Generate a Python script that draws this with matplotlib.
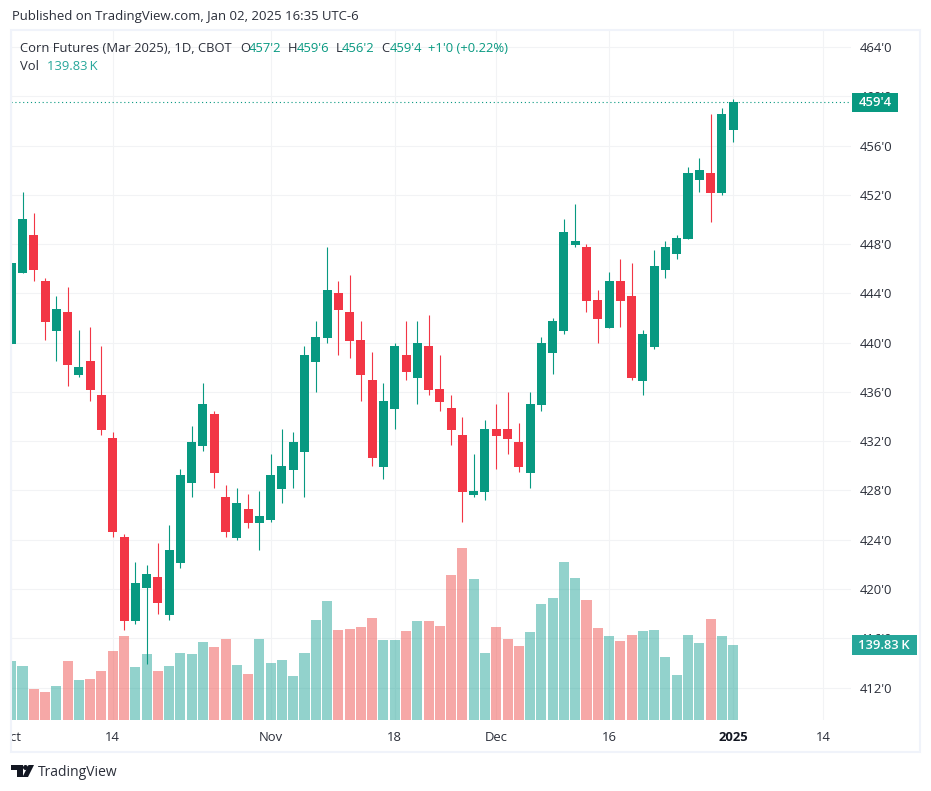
import matplotlib
matplotlib.use("Agg")
import matplotlib.pyplot as plt
from matplotlib.patches import Rectangle, Polygon, Circle
from matplotlib.ticker import FixedLocator, FuncFormatter
from matplotlib.transforms import Bbox, blended_transform_factory

plt.rcParams['font.family'] = ['Open Sans', 'DejaVu Sans']

# daily bars, Oct 1 2024 .. Jan 2 2025
opens = [439.92, 445.68, 448.74, 445.01, 440.97, 442.49, 437.40, 438.51, 435.75, 432.26,
         424.23, 417.43, 420.11, 420.98, 417.92, 422.14, 428.63, 431.64, 434.21, 427.47,
         424.17, 426.50, 425.36, 425.61, 428.12, 429.67, 431.13, 438.43, 440.38, 444.03,
         442.49, 440.22, 436.97, 429.91, 434.62, 439.00, 437.13, 439.73, 436.24, 434.70,
         432.51, 427.64, 427.88, 432.99, 432.99, 431.94, 429.42, 434.94, 439.16, 440.95,
         447.93, 447.77, 443.46, 441.19, 445.01, 443.79, 436.89, 439.65, 445.90, 447.20,
         448.42, 453.20, 453.77, 452.15, 457.25]
highs = [446.47, 452.23, 450.53, 445.25, 443.79, 444.52, 441.03, 441.27, 439.73, 432.75,
         424.47, 422.20, 421.95, 423.74, 425.20, 429.75, 433.24, 436.73, 434.45, 428.45,
         428.20, 427.72, 427.96, 430.96, 432.99, 432.75, 439.73, 441.76, 447.77, 445.01,
         445.49, 441.76, 439.24, 436.73, 439.97, 441.76, 441.76, 442.25, 439.00, 435.75,
         433.97, 430.96, 433.72, 435.02, 436.00, 433.48, 436.00, 440.46, 442.00, 450.04,
         451.26, 448.01, 444.28, 445.74, 446.79, 446.47, 441.03, 447.52, 448.25, 448.74,
         454.26, 454.99, 458.56, 459.05, 459.75]
lows = [439.92, 445.68, 445.03, 440.22, 438.51, 436.51, 437.24, 435.29, 432.53, 424.25,
        416.70, 417.19, 413.94, 418.00, 417.51, 421.74, 427.50, 431.23, 428.23, 424.25,
        424.01, 424.96, 423.17, 425.44, 426.99, 428.20, 427.47, 436.00, 439.97, 439.00,
        438.76, 435.27, 429.99, 428.94, 432.99, 436.97, 435.02, 435.75, 434.45, 431.69,
        425.44, 427.47, 427.23, 429.75, 430.96, 429.50, 428.20, 434.45, 437.46, 440.70,
        447.77, 442.49, 439.97, 441.19, 441.27, 436.97, 435.75, 439.49, 445.25, 446.79,
        448.42, 452.23, 449.80, 451.99, 456.25]
closes = [446.47, 450.04, 445.92, 441.70, 442.73, 438.21, 438.03, 436.18, 432.94, 424.66,
          417.43, 420.49, 421.22, 418.89, 423.17, 429.26, 431.94, 435.02, 429.45, 424.66,
          426.99, 425.36, 425.93, 429.26, 429.99, 431.94, 439.00, 440.46, 444.28, 442.65,
          440.14, 437.38, 430.64, 435.27, 439.73, 437.62, 439.97, 436.16, 435.19, 432.91,
          427.88, 427.96, 432.99, 432.43, 432.18, 429.91, 435.02, 439.97, 441.76, 448.98,
          448.25, 443.38, 441.92, 445.01, 443.38, 437.13, 440.70, 446.22, 447.77, 448.50,
          453.77, 454.02, 452.15, 458.56, 459.50]
# volume in thousands
volumes = [110, 101, 58, 52, 63, 110, 75, 76, 91, 129,
           157, 99, 123, 91, 101, 125, 123, 145, 136, 151,
           103, 86, 151, 106, 112, 82, 125, 186, 222, 168,
           170, 173, 190, 149, 149, 166, 185, 185, 175, 270,
           321, 263, 125, 173, 151, 138, 164, 216, 227, 295,
           265, 224, 171, 157, 147, 158, 166, 168, 117, 84,
           158, 144, 188, 157, 139.83]

date_ticks = [0, 9, 23, 34, 43, 53, 64, 72]
date_labels = ['Oct', '14', 'Nov', '18', 'Dec', '16', '2025', '14']
price_ticks = [412, 416, 420, 424, 428, 432, 436, 440, 444, 448, 452, 456, 460, 464]

GREEN = '#089981'
RED = '#f23645'
VOL_GREEN = '#26a69a'
VOL_RED = '#ef5350'
GRID = '#f2f3f5'
FRAME = '#f0f3fa'
TEXT = '#2a2e39'

idx = list(range(len(closes)))
up = [c >= o for o, c in zip(opens, closes)]
candle_colors = [GREEN if u else RED for u in up]
vol_colors = [VOL_GREEN if u else VOL_RED for u in up]

W, H = 931, 791
fig = plt.figure(figsize=(W / 100, H / 100), dpi=100, facecolor='white')
rect = [11 / W, (H - 720) / H, 840 / W, 689 / H]

# grid at the back, volume over it, candles and labels on top
ax = fig.add_axes(rect, zorder=3)
ax.patch.set_visible(False)
ax.set_xlim(-0.02, 74.45)
ax.set_ylim(409.37, 465.3)

ax_grid = fig.add_axes(rect, zorder=1, sharex=ax, sharey=ax)
ax_vol = fig.add_axes(rect, zorder=2)
ax_vol.patch.set_visible(False)
ax_vol.set_xlim(-0.02, 74.45)
ax_vol.set_ylim(0, 1284.7)
ax_vol.set_xticks([])
ax_vol.set_yticks([])

ax.xaxis.set_major_locator(FixedLocator(date_ticks))
ax.set_xticklabels(date_labels)
ax.yaxis.set_major_locator(FixedLocator(price_ticks))
ax.yaxis.tick_right()
ax.yaxis.set_major_formatter(FuncFormatter(lambda p, _: f"{int(p)}'{int((p % 1) * 8)}"))
ax.tick_params(axis='x', length=0, pad=8.2, labelsize=9.4, labelcolor=TEXT)
ax.tick_params(axis='y', length=0, pad=6.5, labelsize=9.4, labelcolor=TEXT)
for spine_ax in (ax, ax_grid, ax_vol):
    for s in spine_ax.spines.values():
        s.set_visible(False)

ax_grid.grid(True, color=GRID, linewidth=0.8)
ax_grid.tick_params(length=0, labelbottom=False, labelleft=False, labelright=False)

labels = ax.get_xticklabels()
labels[0].set_clip_on(True)
labels[0].set_clip_box(Bbox([[11, 0], [200, H]]))
labels[6].set_fontweight('bold')
labels[6].set_color('#131722')

ax_vol.bar(idx, volumes, width=0.89, color=vol_colors, alpha=0.5, linewidth=0)

ax.vlines(idx, lows, highs, colors=candle_colors, linewidth=0.8, zorder=3)
ax.bar(idx, [abs(c - o) for o, c in zip(opens, closes)],
       bottom=[min(o, c) for o, c in zip(opens, closes)],
       width=0.8, color=candle_colors, linewidth=0, zorder=4)
ax.axhline(closes[-1], color=GREEN, linewidth=0.8, linestyle=(0, (1, 2.5)), zorder=2)

# last value tags on the price scale
price_tr = blended_transform_factory(ax.transAxes, ax.transData)
vol_tr = blended_transform_factory(ax.transAxes, ax_vol.transData)
ax.add_patch(Rectangle((1.001, closes[-1] - 0.79), 0.0545, 1.58, transform=price_tr,
                       color=GREEN, linewidth=0, clip_on=False, zorder=6))
ax.text(1.0285, closes[-1] - 0.03, "459'4", transform=price_tr, color='white', fontsize=9.4,
        fontweight='semibold', ha='center', va='center', zorder=7, clip_on=False)
ax.add_patch(Rectangle((1.001, volumes[-1] - 18), 0.077, 36.4, transform=vol_tr,
                       color=VOL_GREEN, linewidth=0, clip_on=False, zorder=6))
ax.text(1.0395, volumes[-1], "139.83\u2009K", transform=vol_tr, color='white', fontsize=9.4,
        fontweight='semibold', ha='center', va='center', zorder=7, clip_on=False)

# overlay in pixel coordinates for the page furniture
over = fig.add_axes([0, 0, 1, 1], zorder=5)
over.set_xlim(0, W)
over.set_ylim(H, 0)
over.axis('off')
over.add_patch(Rectangle((11, 30), 909, 722, fill=False, edgecolor=FRAME, linewidth=1.5))

over.text(12, 16.5, 'Published on TradingView.com, Jan 02, 2025 16:35 UTC-6', color=TEXT,
          fontsize=9.45, va='center')

legend_parts = [(20, 'Corn Futures (Mar 2025), 1D, CBOT', TEXT), (240, 'O', TEXT),
                (249, "457'2", GREEN), (288, 'H', TEXT), (297, "459'6", GREEN),
                (336, 'L', TEXT), (342, "456'2", GREEN), (381, 'C', TEXT),
                (390, "459'4", GREEN), (428, "+1'0 (+0.22%)", GREEN)]
for x, s, c in legend_parts:
    over.text(x, 48, s, color=c, fontsize=9.35, va='center')
over.text(20, 67, 'Vol', color=TEXT, fontsize=9.35, va='center')
over.text(47, 67, '139.83\u2009K', color=VOL_GREEN, fontsize=9.35, va='center')

# TradingView logo and name
LOGO = '#131722'
over.add_patch(Polygon([(11, 765), (23, 765), (23, 777), (17, 777), (17, 770), (11, 770)],
                       color=LOGO, linewidth=0))
over.add_patch(Circle((25.5, 767.5), 2.5, color=LOGO, linewidth=0))
over.add_patch(Polygon([(28.5, 765), (34, 765), (28, 777), (22.5, 777)], color=LOGO, linewidth=0))
over.text(38, 772.5, 'TradingView', color=TEXT, fontsize=10.0, va='center')

fig.savefig('out.png', dpi=100)
